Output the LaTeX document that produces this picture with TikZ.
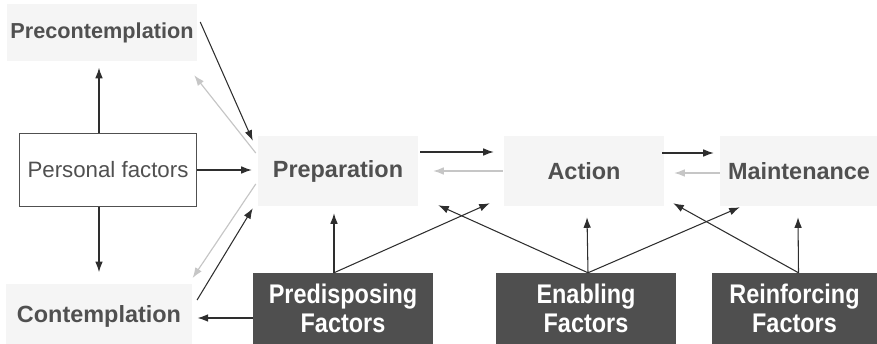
\documentclass[tikz,border=0pt]{standalone}
\usepackage{fontspec}
\setmainfont{Liberation Sans}
\newfontfamily\narrowfont[FakeStretch=0.87]{Liberation Sans}
\usetikzlibrary{arrows.meta,calc}
\definecolor{txtgray}{HTML}{505050}
\definecolor{paleback}{HTML}{F5F5F5}
\definecolor{darkbox}{HTML}{4F4F4F}
\definecolor{arrdark}{HTML}{2E2E2E}
\definecolor{arrlight}{HTML}{C6C6C6}

\begin{document}
\begin{tikzpicture}[x=0.03cm,y=-0.03cm,
  stage/.style={fill=paleback, text=txtgray, inner sep=0pt,
    font=\fontsize{20}{22}\selectfont\bfseries},
  factorbox/.style={fill=darkbox, text=white, inner sep=0pt, align=center,
    minimum height=2.13cm, font=\narrowfont\fontsize{23}{25}\selectfont\bfseries},
  personalbox/.style={draw=txtgray, line width=0.8pt, fill=white, text=txtgray,
    minimum width=5.31cm, minimum height=2.19cm, inner sep=0pt,
    font=\fontsize{19}{21}\selectfont},
  arr/.style={-{Latex[length=9pt,width=6.5pt]}, arrdark, line width=0.9pt},
  backarr/.style={-{Latex[length=9pt,width=6.5pt]}, arrlight, line width=1pt}]
  \useasboundingbox (0,0) rectangle (877,344);

  \node[stage, minimum width=5.7cm, minimum height=1.71cm,
    font=\fontsize{18.5}{20}\selectfont\bfseries] (precon) at (102,33) {Precontemplation};
  \node[personalbox] (personal) at (108,170) {Personal factors};
  \node[stage, minimum width=5.6cm, minimum height=1.9cm] (contem) at (99,316) {Contemplation};
  \node[stage, minimum width=4.8cm, minimum height=2.1cm] (prep) at (338,171) {Preparation};
  \node[stage, minimum width=4.8cm, minimum height=2.1cm] (action) at (584,171) {Action};
  \node[stage, minimum width=4.74cm, minimum height=2.1cm] (maint) at (799,171) {Maintenance};
  \node[factorbox, minimum width=5.4cm] (predis) at (343,308.5) {Predisposing\\Factors};
  \node[factorbox, minimum width=5.4cm] (enab) at (586,308.5) {Enabling\\Factors};
  \node[factorbox, minimum width=4.95cm] (reinf) at (794.5,308.5) {Reinforcing\\Factors};

  % personal factors
  \draw[arr] ($(personal.north)+(-9,0)$) -- ($(precon.south)+(-3,6)$);
  \draw[arr] ($(personal.south)+(-9,0)$) -- ($(contem.north)+(0,-12)$);
  \draw[arr] (personal.east) -- ($(prep.west)+(-6,-1)$);

  % stages on the left
  \draw[arr] ($(precon.east)+(3,-11)$) -- ($(prep.north west)+(-5,5)$);
  \draw[backarr] ($(prep.west)+(-2,-18)$) -- ($(precon.south east)+(-3,13.5)$);
  \draw[backarr] ($(prep.west)+(-2,13)$) -- ($(contem.north east)+(0,-6)$);
  \draw[arr] ($(contem.east)+(4.5,-16)$) -- ($(prep.south west)+(-5,2)$);
  \draw[arr] ($(predis.west)+(0,9.5)$) -- ($(contem.east)+(5,2)$);

  % stages in a row
  \draw[arr] ($(prep.east)+(2,-19)$) -- ($(action.west)+(-10,-19)$);
  \draw[backarr] ($(action.west)+(-1,0)$) -- ($(prep.east)+(15,0)$);
  \draw[arr] ($(action.east)+(-2,-18)$) -- ($(maint.west)+(-6,-18)$);
  \draw[backarr] ($(maint.west)+(0,2)$) -- ($(action.east)+(10,2)$);

  % factors
  \draw[arr] ($(predis.north)+(-9,0)$) -- ($(prep.south)+(-4,7)$);
  \draw[arr] ($(predis.north)+(-9,0)$) -- ($(action.south west)+(-14,-3)$);
  \draw[arr] ($(enab.north)+(2,0)$) -- ($(action.south)+(3,11)$);
  \draw[arr] ($(enab.north)+(2,0)$) -- ($(prep.south east)+(20,-1)$);
  \draw[arr] ($(enab.north)+(2,0)$) -- ($(maint.south west)+(20,1)$);
  \draw[arr] ($(reinf.north)+(4,0)$) -- ($(maint.south)+(-1,11)$);
  \draw[arr] ($(reinf.north)+(4,0)$) -- ($(action.south east)+(9,-3)$);
\end{tikzpicture}
\end{document}
